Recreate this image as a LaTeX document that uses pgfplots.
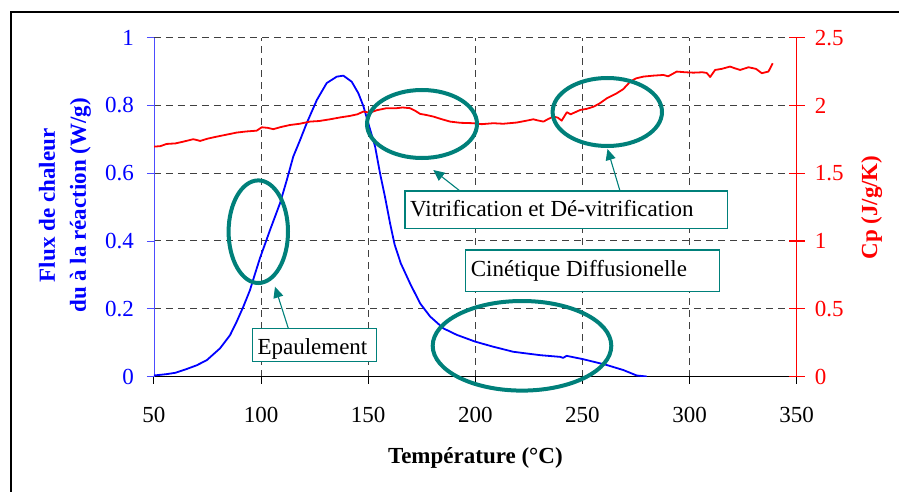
\documentclass[border=0pt]{standalone}
\usepackage{fontspec}
\setmainfont{Liberation Serif}
\usepackage{pgfplots}
\pgfplotsset{compat=1.18}
\usetikzlibrary{arrows.meta}
\definecolor{tealann}{RGB}{0,128,122}
\begin{document}
\fontsize{23}{27}\selectfont
\begin{tikzpicture}[x=1pt,y=1pt]
\begin{scope}[shift={(-154,-114.5)}]
\useasboundingbox (0,0) rectangle (899,491);
\draw[line width=2pt] (11,-5) -- (11,479) -- (905,479);
\end{scope}
\begin{axis}[
  scale only axis, width=642.7pt, height=338.8pt,
  xmin=50, xmax=350, ymin=0, ymax=1,
  axis x line*=bottom, axis y line*=left,
  xtick={100,150,200,250,300},
  extra x ticks={50,350},
  extra x tick style={grid=none},
  ytick={0.2,0.4,0.6,0.8,1},
  extra y ticks={0},
  extra y tick style={grid=none},
  /pgf/number format/assume math mode=true,
  tick label style={font=\fontsize{23}{27}\selectfont},
  xticklabel style={black, inner sep=0pt, anchor=north},
  yticklabel style={blue, inner sep=0pt, anchor=east},
  xticklabel shift=23pt, yticklabel shift=13pt,
  tick align=outside, major tick length=7pt,
  xtick style={black, line width=1pt},
  ytick style={blue!70, line width=0.8pt},
  x axis line style={black, line width=1.2pt, -},
  y axis line style={blue!70, line width=0.8pt, -},
  grid=major,
  major grid style={black!75, line width=1pt, dash pattern=on 7pt off 5pt},
  xlabel={Température (°C)},
  xlabel style={font=\fontsize{23}{27}\selectfont\bfseries, black, at={(axis description cs:0.5,-0.2553)}, anchor=base},
  ylabel={Flux de chaleur\\du à la réaction (W/g)},
  ylabel style={font=\fontsize{23}{31}\selectfont\bfseries, blue, align=center, at={(axis description cs:-0.1385,0.505)}, anchor=center},
]
\addplot[blue, line width=1.8pt, line join=round] coordinates {
(50,0.003)(55.9,0.007)(60,0.011)(65.2,0.022)(69.9,0.033)(74.6,0.048)(80.8,0.083)
(85.5,0.122)(88.6,0.162)(91.7,0.206)(94.8,0.255)(97,0.300)(99.5,0.350)(104.2,0.433)
(108.8,0.511)(112,0.580)(115,0.649)(118.2,0.698)(121.3,0.748)(126,0.816)(130.6,0.866)
(135.3,0.885)(138.4,0.888)(142.3,0.870)(145.4,0.836)(147.8,0.797)(150,0.748)
(153.2,0.679)(155.5,0.600)(157.8,0.531)(160.2,0.452)(162.3,0.390)(165.2,0.334)
(169.5,0.275)(174.2,0.216)(178.9,0.177)(185.1,0.142)(191.3,0.123)(199.9,0.103)
(208.3,0.088)(217.7,0.073)(230.2,0.063)(239.5,0.058)(241,0.055)(242.6,0.061)
(250.4,0.051)(261.3,0.034)(269.1,0.019)(275.3,0.003)(280,0.0)
};
\end{axis}
\begin{axis}[
  scale only axis, width=642.7pt, height=338.8pt,
  xmin=50, xmax=350, ymin=0, ymax=2.5,
  axis x line=none, axis y line*=right,
  ytick={0,0.5,1,1.5,2,2.5},
  /pgf/number format/assume math mode=true,
  tick label style={font=\fontsize{23}{27}\selectfont},
  yticklabel style={red, inner sep=0pt, anchor=west},
  yticklabel shift=10pt,
  tick align=center, major tick length=16pt,
  ytick style={red, line width=1.2pt},
  y axis line style={red, line width=1.2pt, -},
  ylabel={Cp (J/g/K)},
  ylabel style={font=\fontsize{23}{27}\selectfont\bfseries, red, at={(axis description cs:1.1167,0.4988)}, anchor=center},
]
\addplot[red, line width=1.8pt, line join=round] coordinates {
(50,1.696)(53,1.70)(55.9,1.716)(60,1.72)(63.7,1.733)(68.3,1.751)(70,1.745)(71.5,1.738)
(75,1.755)(79.3,1.770)(84,1.785)(88.6,1.800)(93,1.808)(97.9,1.814)(100.3,1.839)
(103,1.835)(105.7,1.825)(109,1.840)(113.5,1.856)(118,1.865)(122.8,1.881)(127,1.885)
(132.2,1.898)(137,1.912)(141.5,1.923)(145,1.935)(147.7,1.955)(150.8,1.947)(154,1.965)
(158.6,1.980)(163.3,1.980)(166,1.985)(169.5,1.980)(172,1.960)(174.2,1.938)(177,1.930)
(180.4,1.918)(184,1.900)(188.2,1.881)(193,1.872)(199.1,1.869)(203,1.862)(208.4,1.869)
(213,1.865)(219.3,1.874)(223,1.885)(227.1,1.898)(229,1.890)(231.8,1.881)(234,1.900)
(236.5,1.918)(238.5,1.910)(240.3,1.888)(242.7,1.950)(244.5,1.935)(249,1.967)(252,1.975)
(255.2,1.991)(258,2.015)(261.4,2.053)(266,2.090)(269,2.12)(272.3,2.176)(275,2.20)
(278.5,2.213)(283,2.22)(287.8,2.225)(290,2.215)(294,2.250)(298,2.245)(301.8,2.242)
(306,2.245)(308,2.240)(309.6,2.210)(311.9,2.262)(315,2.27)(318.9,2.287)(321,2.275)
(323.6,2.262)(327.5,2.282)(331,2.27)(333.7,2.238)(336.8,2.250)(338.8,2.311)
};
\end{axis}
% annotations
\begin{scope}[shift={(-154,-114.5)}]
\begin{scope}[tealann, line width=4pt]
\draw (258.3,259.3) ellipse [x radius=29.7, y radius=51.3];
\draw (422,367) ellipse [x radius=55, y radius=34];
\draw (607.3,379) ellipse [x radius=54.7, y radius=34];
\draw (522,145.2) ellipse [x radius=89.3, y radius=44.8];
\end{scope}
\begin{scope}[tealann, line width=1.1pt]
\draw[-{Triangle[length=11pt,width=10pt]}] (288.3,162.7) -- (275,204.3);
\draw[-{Triangle[length=11pt,width=10pt]}] (460,300) -- (433.3,321);
\draw[-{Triangle[length=11pt,width=10pt]}] (620,300) -- (607.5,342);
\filldraw[fill=white] (252.3,129.3) rectangle (376.7,162.7);
\filldraw[fill=white] (405,262.7) rectangle (727.7,300);
\filldraw[fill=white] (465.7,199.3) rectangle (719.3,241);
\end{scope}
\node[anchor=base west, inner sep=0pt] at (257.3,137) {Epaulement};
\node[anchor=base west, inner sep=0pt] at (410,274.3) {Vitrification et Dé-vitrification};
\node[anchor=base west, inner sep=0pt] at (470.7,215) {Cinétique Diffusionelle};
\end{scope}
\end{tikzpicture}
\end{document}
